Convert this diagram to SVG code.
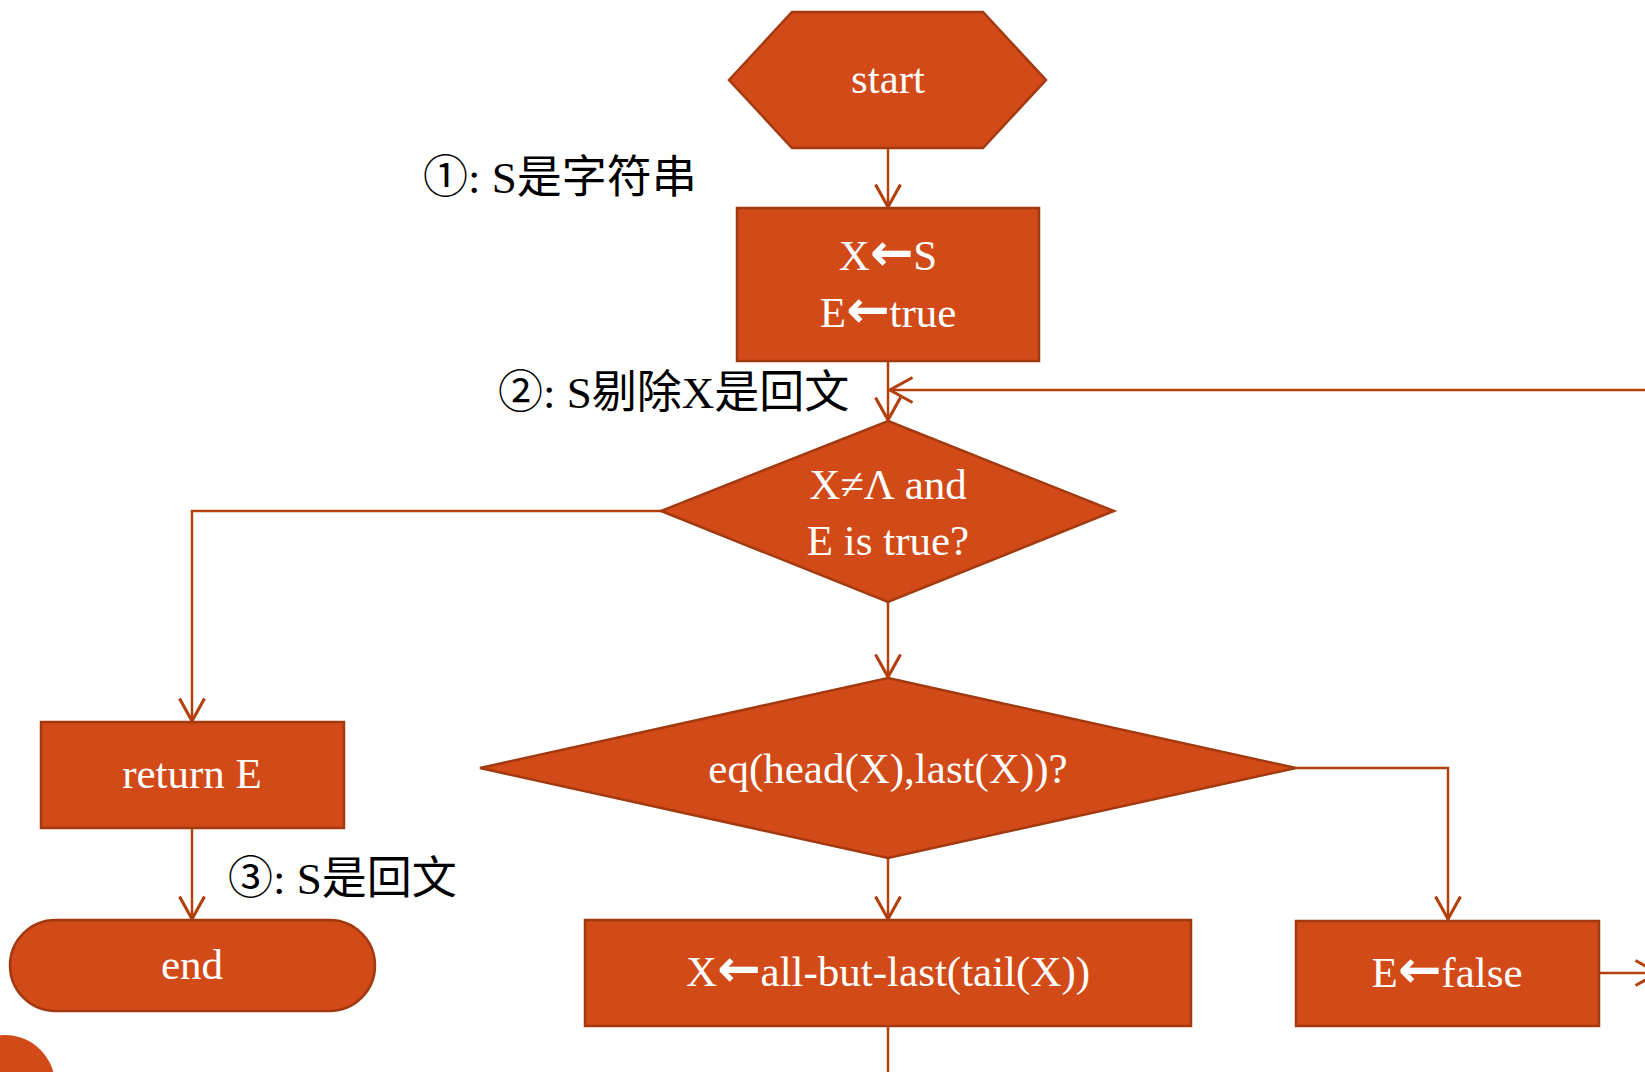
<svg xmlns="http://www.w3.org/2000/svg" width="1645" height="1072" viewBox="0 0 1645 1072">
<defs>
<style>
.node{fill:#D24A18;stroke:#A3390F;stroke-width:2.5}
.ntext{font-family:"Liberation Serif","DejaVu Serif",serif;font-size:43px;fill:#FFFFFF;text-anchor:middle}
.arr{font-family:"DejaVu Sans",sans-serif;font-weight:bold;font-size:52px}
.lbl{font-family:"Liberation Serif","Noto Sans CJK SC",serif;font-size:45px;fill:#000000}
.cjk{font-family:"Noto Sans CJK SC",sans-serif}
.conn{fill:none;stroke:#B3400F;stroke-width:2.5}
</style>
<marker id="ah" markerUnits="userSpaceOnUse" markerWidth="30" markerHeight="30" viewBox="-22 -12 24 24" refX="0" refY="0" orient="auto">
<path d="M-18,-10 L0,0 L-18,10" fill="none" stroke="#B3400F" stroke-width="2.5"/>
</marker>
</defs>
<rect x="0" y="0" width="1645" height="1072" fill="#FFFFFF"/>

<g id="connectors">
<line class="conn" x1="888" y1="148" x2="888" y2="207" marker-end="url(#ah)"/>
<line class="conn" x1="888" y1="361" x2="888" y2="420" marker-end="url(#ah)"/>
<line class="conn" x1="1650" y1="390" x2="890" y2="390" marker-end="url(#ah)"/>
<polyline class="conn" points="661,511 192,511 192,721" marker-end="url(#ah)"/>
<line class="conn" x1="888" y1="602" x2="888" y2="677" marker-end="url(#ah)"/>
<line class="conn" x1="192" y1="828" x2="192" y2="919" marker-end="url(#ah)"/>
<line class="conn" x1="888" y1="858" x2="888" y2="919" marker-end="url(#ah)"/>
<polyline class="conn" points="1296,768 1448,768 1448,919" marker-end="url(#ah)"/>
<line class="conn" x1="1599" y1="973" x2="1658" y2="973" marker-end="url(#ah)"/>
<line class="conn" x1="888" y1="1026" x2="888" y2="1080"/>
</g>

<g id="start">
<polygon class="node" points="729,80 792,12 983,12 1046,80 983,148 792,148"/>
<text class="ntext" x="888" y="93">start</text>
</g>

<g id="init">
<rect class="node" x="737" y="208" width="302" height="153"/>
<text class="ntext" x="888" y="270">X<tspan class="arr">←</tspan>S</text>
<text class="ntext" x="888" y="327">E<tspan class="arr">←</tspan>true</text>
</g>

<g id="cond1">
<polygon class="node" points="888,421 1114,511 888,602 661,511"/>
<text class="ntext" x="888" y="499">X≠Λ and</text>
<text class="ntext" x="888" y="555">E is true?</text>
</g>

<g id="cond2">
<polygon class="node" points="888,678 1296,768 888,858 480,768"/>
<text class="ntext" x="888" y="783">eq(head(X),last(X))?</text>
</g>

<g id="returnE">
<rect class="node" x="41" y="722" width="303" height="106"/>
<text class="ntext" x="192" y="788">return E</text>
</g>

<g id="end">
<rect class="node" x="10" y="920" width="365" height="91" rx="45.5" ry="45.5"/>
<text class="ntext" x="192" y="979">end</text>
</g>

<g id="shrink">
<rect class="node" x="585" y="920" width="606" height="106"/>
<text class="ntext" x="888" y="986">X<tspan class="arr">←</tspan>all-but-last(tail(X))</text>
</g>

<g id="setfalse">
<rect class="node" x="1296" y="921" width="303" height="105"/>
<text class="ntext" x="1447" y="987">E<tspan class="arr">←</tspan>false</text>
</g>

<g id="corner">
<circle cx="5" cy="1085" r="50" fill="#D24A18"/>
</g>

<g id="labels">
<text class="lbl" x="423" y="193"><tspan class="cjk">①</tspan>: S<tspan class="cjk">是字符串</tspan></text>
<text class="lbl" x="498" y="408"><tspan class="cjk">②</tspan>: S<tspan class="cjk">剔除</tspan>X<tspan class="cjk">是回文</tspan></text>
<text class="lbl" x="228" y="894"><tspan class="cjk">③</tspan>: S<tspan class="cjk">是回文</tspan></text>
</g>
</svg>
